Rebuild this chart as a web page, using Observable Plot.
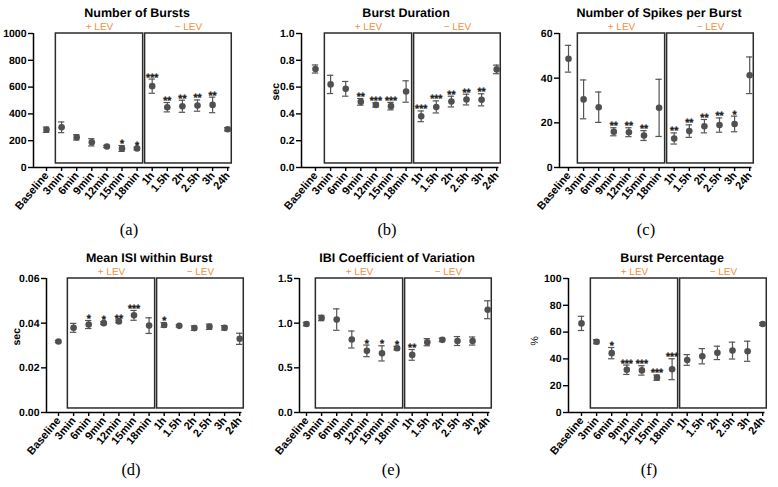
<!DOCTYPE html>
<html><head><meta charset="utf-8">
<script src="https://cdn.jsdelivr.net/npm/d3@7"></script>
<script src="https://cdn.jsdelivr.net/npm/@observablehq/plot@0.6"></script>
<style>
body{margin:0;background:#fff;}
#wrap{position:relative;width:778px;height:487px;overflow:hidden;background:#fff;}
.panel{position:absolute;}
.panel svg text{text-rendering:geometricPrecision;}
.panel svg g[aria-label^="y-axis"] line,.panel svg g[aria-label^="y-axis"] path,
.panel svg g[aria-label^="x-axis"] line,.panel svg g[aria-label^="x-axis"] path{stroke-width:1.4;}
.cap{position:absolute;font-family:"Liberation Serif","DejaVu Serif",serif;font-size:16.5px;transform:translate(-50%,-50%);color:#000;}
</style>
</head><body><div id="wrap"></div>
<script>
// ---- data ----
const timepoints = ["Baseline","3min","6min","9min","12min","15min","18min","1h","1.5h","2h","2.5h","3h","24h"];
const groupLabels = ["+ LEV", "\u2212 LEV"];
const groupFrom = ["3min", "1h"];
const groupTo = ["18min", "24h"];

const burstsMean = [282, 300, 225, 188, 157, 142, 142, 607, 450, 457, 462, 467, 285];
const burstsErr  = [20, 40, 20, 27, 8, 22, 10, 53, 35, 45, 42, 58, 12];
const burstsSig  = ["", "", "", "", "", "*", "*", "***", "**", "**", "**", "**", ""];

const durMean = [0.735, 0.62, 0.587, 0.49, 0.467, 0.458, 0.567, 0.382, 0.452, 0.492, 0.507, 0.505, 0.732];
const durErr  = [0.03, 0.068, 0.055, 0.025, 0.016, 0.028, 0.08, 0.04, 0.045, 0.04, 0.04, 0.045, 0.032];
const durSig  = ["", "", "", "**", "***", "***", "", "***", "***", "**", "**", "**", ""];

const spikesMean = [48.7, 30.5, 27, 16, 15.8, 14.3, 26.7, 13, 16.3, 18.5, 19, 19.5, 41.3];
const spikesErr  = [6, 8.7, 6.8, 1.8, 2, 2.2, 12.8, 2.5, 2.8, 3, 3.2, 3.5, 8.2];
const spikesSig  = ["", "", "", "**", "**", "**", "", "**", "**", "**", "**", "*", ""];

const isiMean = [0.0318, 0.0379, 0.0394, 0.0400, 0.0408, 0.0435, 0.0389, 0.0392, 0.0388, 0.0378, 0.0384, 0.0379, 0.0330];
const isiErr  = [0.0005, 0.002, 0.0018, 0.0006, 0.0006, 0.0022, 0.0035, 0.001, 0.0005, 0.001, 0.0012, 0.001, 0.0025];
const isiSig  = ["", "", "*", "*", "**", "***", "", "*", "", "", "", "", ""];

const cvMean = [0.99, 1.058, 1.04, 0.817, 0.69, 0.662, 0.72, 0.645, 0.787, 0.813, 0.8, 0.8, 1.15];
const cvErr  = [0.02, 0.03, 0.12, 0.095, 0.065, 0.085, 0.02, 0.06, 0.04, 0.02, 0.05, 0.045, 0.1];
const cvSig  = ["", "", "", "", "*", "*", "*", "**", "", "", "", "", ""];

const pctMean = [66.5, 52.8, 44.3, 31.9, 31.4, 26, 32.3, 39.2, 42, 44.5, 46.2, 45.7, 66];
const pctErr  = [5.3, 1.5, 4.2, 3.5, 3.5, 2, 7.8, 4, 5.7, 5, 6.3, 7.5, 1];
const pctSig  = ["", "", "*", "***", "***", "***", "***", "", "", "", "", "", ""];

// ---- panel configuration ----
const panels = [
  {title:"Number of Bursts", ylabel:"", mean:burstsMean, err:burstsErr, sig:burstsSig, yMax:1000, step:200, fmt:"d", cap:"(a)",
   left:0, top:0, axisX:33, x0:46, mTop:33, H:240, capX:129, capY:230},
  {title:"Burst Duration", ylabel:"sec", mean:durMean, err:durErr, sig:durSig, yMax:1.0, step:0.2, fmt:".1f", cap:"(b)",
   left:259, top:0, axisX:42, x0:56, mTop:33, H:240, capX:387, capY:230},
  {title:"Number of Spikes per Burst", ylabel:"", mean:spikesMean, err:spikesErr, sig:spikesSig, yMax:60, step:20, fmt:"d", cap:"(c)",
   left:518, top:0, axisX:41, x0:50, mTop:33, H:240, capX:646, capY:230},
  {title:"Mean ISI within Burst", ylabel:"sec", mean:isiMean, err:isiErr, sig:isiSig, yMax:0.06, step:0.02, fmt:".2f", cap:"(d)",
   left:0, top:240, axisX:46, x0:58, mTop:38, H:247, capX:131, capY:470},
  {title:"IBI Coefficient of Variation", ylabel:"", mean:cvMean, err:cvErr, sig:cvSig, yMax:1.5, step:0.5, fmt:".1f", cap:"(e)",
   left:259, top:240, axisX:40, x0:47, mTop:38, H:247, capX:391, capY:470},
  {title:"Burst Percentage", ylabel:"%", mean:pctMean, err:pctErr, sig:pctSig, yMax:100, step:20, fmt:"d", cap:"(f)",
   left:518, top:240, axisX:50, x0:63, mTop:38, H:247, capX:649, capY:470}
];

const W = 260, UNIT = 15.1, XMAX = 12.15, BODY = 134;
const orange = "#F28C3A";
const wrap = document.getElementById("wrap");
const idx = (name) => timepoints.indexOf(name);

for (const p of panels) {
  const data = timepoints.map((t, i) => ({i, t, m: p.mean[i], lo: p.mean[i] - p.err[i], hi: p.mean[i] + p.err[i], s: p.sig[i]}));
  const xmin = (p.axisX - p.x0) / UNIT;
  const right = p.x0 + XMAX * UNIT;
  const groups = groupLabels.map((label, g) => ({
    label,
    x1: idx(groupFrom[g]) - (g === 0 ? 0.38 : 0.47),
    x2: idx(groupTo[g]) + (g === 0 ? 0.4 : 0.27)
  }));
  const yTicks = d3.range(0, p.yMax + p.step / 2, p.step);
  const capW = 0.21;
  const chart = Plot.plot({
    width: W, height: p.H,
    marginLeft: p.axisX, marginRight: W - right,
    marginTop: p.mTop, marginBottom: p.H - p.mTop - BODY,
    style: {fontFamily: "'Liberation Sans', Arial, sans-serif", fontSize: "10.5px", fontWeight: "bold", color: "#000", background: "transparent"},
    x: {type: "linear", domain: [xmin, XMAX], ticks: d3.range(timepoints.length), tickFormat: i => timepoints[i],
        tickRotate: -50, tickSize: 4, tickPadding: 2, label: null},
    y: {domain: [0, p.yMax], ticks: yTicks, tickFormat: d3.format(p.fmt), tickSize: 5, tickPadding: 2, label: null},
    marks: [
      Plot.rect(groups, {x1: "x1", x2: "x2", y1: p.yMax * 0.03, y2: p.yMax, fill: "none", stroke: "#2b2b2b", strokeWidth: 1.5}),
      Plot.ruleX([xmin], {y1: 0, y2: p.yMax, stroke: "#000", strokeWidth: 1.5}),
      Plot.ruleY([0], {x1: xmin, x2: XMAX, stroke: "#000", strokeWidth: 1.5}),
      Plot.ruleX(data, {x: "i", y1: "lo", y2: "hi", stroke: "#555", strokeWidth: 1.2}),
      Plot.ruleY(data, {y: "hi", x1: d => d.i - capW, x2: d => d.i + capW, stroke: "#555", strokeWidth: 1.2}),
      Plot.ruleY(data, {y: "lo", x1: d => d.i - capW, x2: d => d.i + capW, stroke: "#555", strokeWidth: 1.2}),
      Plot.dot(data, {x: "i", y: "m", r: 3.3, fill: "#505050", stroke: "none"}),
      Plot.text(data.filter(d => d.s), {x: "i", y: "hi", text: "s", dy: 1.5, lineAnchor: "bottom", fontSize: 10.5, fontWeight: "bold",
        fill: "#222", stroke: "#222", strokeWidth: 0.35}),
      Plot.text(groups, {x: d => (d.x1 + d.x2) / 2, y: p.yMax, text: "label", dy: -4, lineAnchor: "bottom", fill: orange, fontWeight: "normal", fontSize: 10}),
      Plot.text([p.title], {x: (timepoints.length - 1) / 2, y: p.yMax, text: d => d, dy: -17, lineAnchor: "bottom", fontSize: 12.5, fontWeight: "bold"}),
      p.ylabel ? Plot.text([p.ylabel], {frameAnchor: "left", text: d => d, rotate: -90, dx: -(p.axisX - 16), fontSize: 10.5, fontWeight: p.ylabel === "%" ? "normal" : "bold"}) : null
    ]
  });
  chart.querySelectorAll('g[aria-label^="x-axis"] text').forEach(t => t.setAttribute("font-size", "11"));
  const div = document.createElement("div");
  div.className = "panel";
  div.style.left = p.left + "px";
  div.style.top = p.top + "px";
  div.appendChild(chart);
  wrap.appendChild(div);
  const cap = document.createElement("div");
  cap.className = "cap";
  cap.style.left = p.capX + "px";
  cap.style.top = p.capY + "px";
  cap.textContent = p.cap;
  wrap.appendChild(cap);
}
</script>
</body></html>
